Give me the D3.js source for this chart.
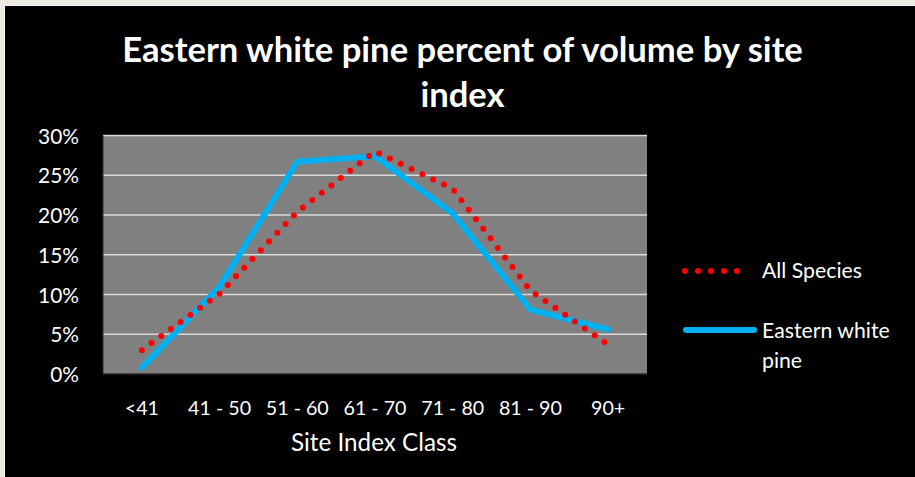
<!DOCTYPE html>
<html>
<head>
<meta charset="utf-8">
<script src="https://cdn.jsdelivr.net/npm/d3@7"></script>
<style>
  html, body { margin: 0; padding: 0; background: #ECEAE1; }
  svg { display: block; }
  text { font-family: Lato, "Open Sans", sans-serif; fill: #ffffff; }
</style>
</head>
<body>
<svg id="chart" width="915" height="477"></svg>
<script>
// ---- data ----
const categories = ["<41", "41 - 50", "51 - 60", "61 - 70", "71 - 80", "81 - 90", "90+"];
const allSpecies = [0.030, 0.101, 0.204, 0.280, 0.233, 0.105, 0.037];
const easternWhitePine = [0.008, 0.110, 0.267, 0.274, 0.202, 0.081, 0.056];
const yTicks = [0, 0.05, 0.10, 0.15, 0.20, 0.25, 0.30];
const titleLines = ["Eastern white pine percent of volume by site", "index"];
const xAxisTitle = "Site Index Class";
const seriesNames = ["All Species", "Eastern white pine"];

// ---- layout ----
const W = 915, H = 477;
const plot = { left: 103, right: 647, top: 135.5, bottom: 374 };

const svg = d3.select("#chart");

// background frame
svg.append("rect").attr("x", 0).attr("y", 0).attr("width", W).attr("height", H).attr("fill", "#ECEAE1");
svg.append("rect").attr("x", 4).attr("y", 5).attr("width", W - 4).attr("height", H - 5).attr("fill", "#F6F5F0");
svg.append("rect").attr("x", 5).attr("y", 6).attr("width", W - 5).attr("height", H - 6).attr("fill", "#000000");

const x = d3.scaleBand().domain(categories).range([plot.left, plot.right]);
const y = d3.scaleLinear().domain([0, 0.30]).range([plot.bottom, plot.top]);
const cx = d => x(d) + x.bandwidth() / 2;

// helper: fit font size so that sample text reaches target width
function fitSize(sample, target, weight) {
  const t = svg.append("text").attr("font-size", 100).attr("font-weight", weight || "normal").text(sample);
  const w = t.node().getComputedTextLength();
  t.remove();
  return 100 * target / w;
}

// plot area
svg.append("rect")
  .attr("x", plot.left).attr("y", plot.top)
  .attr("width", plot.right - plot.left).attr("height", plot.bottom - plot.top)
  .attr("fill", "#808080");

// gridlines
svg.append("g").selectAll("line").data(yTicks.filter(d => d > 0)).join("line")
  .attr("x1", plot.left).attr("x2", plot.right)
  .attr("y1", d => y(d)).attr("y2", d => y(d))
  .attr("stroke", "#D9D9D9").attr("stroke-width", 1.6);

// plot border (left & bottom dark)
svg.append("line").attr("x1", plot.left).attr("x2", plot.right).attr("y1", plot.bottom).attr("y2", plot.bottom)
  .attr("stroke", "#2a2a2a").attr("stroke-width", 1.5);
svg.append("line").attr("x1", plot.left).attr("x2", plot.left).attr("y1", plot.top).attr("y2", plot.bottom)
  .attr("stroke", "#2a2a2a").attr("stroke-width", 1);

// y axis labels
const yFmt = d3.format(".0%");
const ySize = fitSize("30%", 41);
const yAxis = d3.axisLeft(y).tickValues(yTicks).tickFormat(yFmt).tickSize(0).tickPadding(0);
const yG = svg.append("g").attr("transform", `translate(79,0)`).call(yAxis);
yG.select(".domain").remove();
yG.selectAll("text").attr("font-size", ySize).attr("fill", "#fff")
  .attr("font-family", "Lato, 'Open Sans', sans-serif").attr("dy", "0.36em");

// x axis labels
const xSize = fitSize("41 - 50", 63);
const xAxis = d3.axisBottom(x).tickSize(0).tickPadding(0);
const xG = svg.append("g").attr("transform", `translate(0,0)`).call(xAxis);
xG.select(".domain").remove();
xG.selectAll(".tick text").attr("y", 415).attr("dy", null).attr("font-size", xSize).attr("fill", "#fff")
  .attr("font-family", "Lato, 'Open Sans', sans-serif");

// x axis title
svg.append("text").attr("x", 374).attr("y", 451).attr("text-anchor", "middle")
  .attr("font-size", fitSize(xAxisTitle, 166)).text(xAxisTitle);

// title
const tSize = fitSize(titleLines[0], 681, "bold");
svg.append("g").selectAll("text").data(titleLines).join("text")
  .attr("x", 462.5).attr("y", (d, i) => 62 + i * 45)
  .attr("text-anchor", "middle").attr("font-weight", "bold").attr("font-size", tSize)
  .text(d => d);

// lines
const line = d3.line().x((d, i) => cx(categories[i])).y(d => y(d));

svg.append("path").datum(easternWhitePine)
  .attr("d", line).attr("fill", "none")
  .attr("stroke", "#00B0F0").attr("stroke-width", 6)
  .attr("stroke-linejoin", "round").attr("stroke-linecap", "round");

svg.append("path").datum(allSpecies)
  .attr("d", line).attr("fill", "none")
  .attr("stroke", "#FF0000").attr("stroke-width", 6)
  .attr("stroke-dasharray", "0 12").attr("stroke-linecap", "round");

// legend
const lg = svg.append("g");
lg.append("line").attr("x1", 685).attr("x2", 750).attr("y1", 271).attr("y2", 271)
  .attr("stroke", "#FF0000").attr("stroke-width", 6)
  .attr("stroke-dasharray", "0 13").attr("stroke-linecap", "round");
const legSize = fitSize(seriesNames[0], 100);
lg.append("text").attr("x", 762).attr("y", 278).attr("font-size", legSize).text(seriesNames[0]);

lg.append("line").attr("x1", 686).attr("x2", 754).attr("y1", 330).attr("y2", 330)
  .attr("stroke", "#00B0F0").attr("stroke-width", 6).attr("stroke-linecap", "round");
lg.append("text").attr("x", 762).attr("y", 338).attr("font-size", legSize).text("Eastern white");
lg.append("text").attr("x", 762).attr("y", 368).attr("font-size", legSize).text("pine");
</script>
</body>
</html>
